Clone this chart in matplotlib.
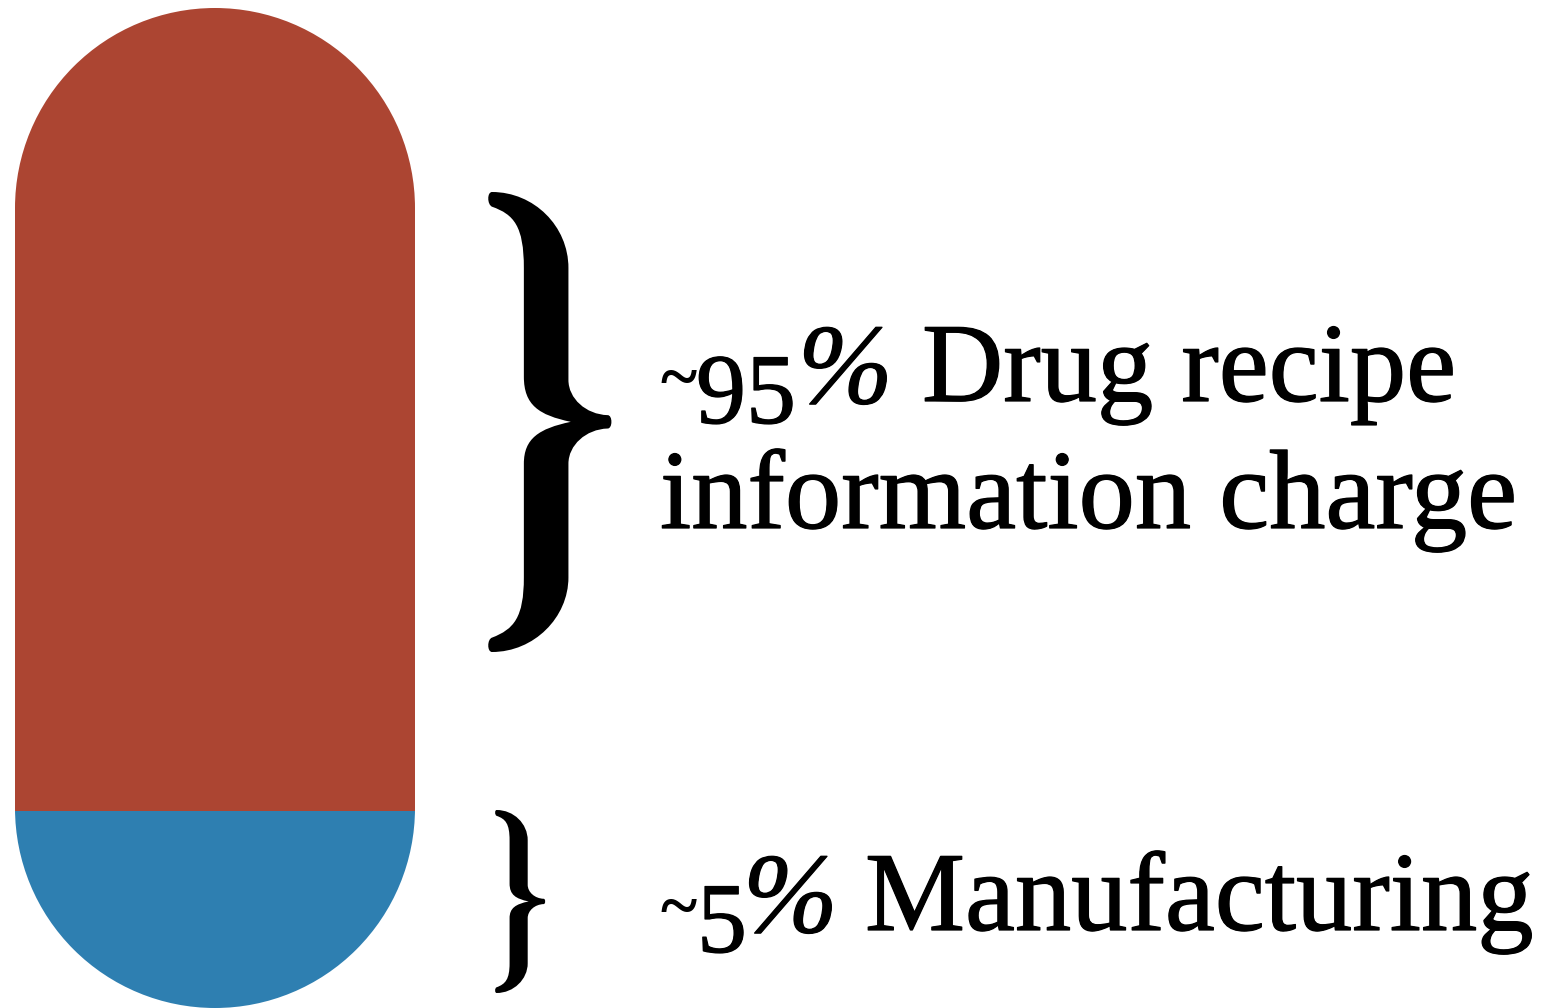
import matplotlib.patheffects as pe
import matplotlib.pyplot as plt
import numpy as np
from matplotlib.patches import PathPatch
from matplotlib.path import Path
from matplotlib.transforms import Affine2D

# capsule split (share of the capsule height, top down)
segment_names = ["Drug recipe information charge", "Manufacturing"]
segment_shares = [80.3, 19.7]
segment_colors = ["#ac4532", "#2e7fb1"]
label_percents = ["95", "5"]
label_words = ["Drug recipe", "information charge", "Manufacturing"]

# canvas in pixels of the reference
width, height = 1546, 1008
pill_left, pill_right = 15, 415
pill_top, pill_height = 8, 1000
px_per_share = pill_height / sum(segment_shares)

# the reference face is a bit heavier than Liberation Serif
heavier = [pe.withStroke(linewidth=0.9, foreground="black")]

# brace outline, in its own units
brace_verts = [
    (65, 38), (190, 38), (293, 140), (293, 265), (293, 600),
    (293, 655), (345, 703), (410, 705), (425, 705), (425, 745), (410, 745),
    (345, 747), (293, 795), (293, 850), (293, 1190),
    (293, 1310), (190, 1413), (65, 1413), (50, 1413), (50, 1375), (65, 1370),
    (130, 1345), (160, 1310), (160, 1190), (160, 850),
    (160, 775), (205, 745), (300, 725), (205, 705), (160, 675), (160, 590),
    (160, 265), (160, 140), (130, 105), (65, 82), (50, 75), (50, 38), (65, 38),
]
C, L = Path.CURVE4, Path.LINETO
brace_codes = [Path.MOVETO, C, C, C, L, C, C, C, C, C, C, C, C, C, L,
               C, C, C, C, C, C, C, C, C, L, C, C, C, C, C, C, L,
               C, C, C, C, C, C]


def draw_brace(ax, x0, x1, y0, y1):
    # scale the outline into the box x0..x1, y0..y1
    sx = (x1 - x0) / (420 - 53)
    sy = (y1 - y0) / (1413 - 38)
    tr = Affine2D().translate(-53, -38).scale(sx, sy).translate(x0, y0)
    path = Path(brace_verts, brace_codes).transformed(tr)
    ax.add_patch(PathPatch(path, facecolor="black", edgecolor="none"))


def capsule_path(left, right, top, bottom):
    # two half circles joined by straight sides (y axis points down)
    r = (right - left) / 2
    cx = left + r
    upper = Path.arc(0, 180).transformed(
        Affine2D().scale(r, -r).translate(cx, top + r))
    lower = Path.arc(180, 360).transformed(
        Affine2D().scale(r, -r).translate(cx, bottom - r))
    verts = np.vstack([upper.vertices, lower.vertices, upper.vertices[:1]])
    lower_codes = lower.codes.copy()
    lower_codes[0] = Path.LINETO
    codes = np.concatenate([upper.codes, lower_codes, [Path.CLOSEPOLY]])
    return Path(verts, codes)


def draw_label(ax, tilde_x, percent_val, digits_x, pct_x, baseline):
    # old-style figures: small tilde, digits dropped below the line, italic %
    ax.text(tilde_x, baseline - 2, "~", family="Liberation Serif",
            fontsize=50, weight="bold", va="baseline")
    ax.text(digits_x, baseline + 22, percent_val, family="Liberation Serif",
            fontsize=72, va="baseline", path_effects=heavier)
    ax.text(pct_x, baseline + 2, "%", family="Liberation Serif",
            style="italic", fontsize=82, va="baseline", path_effects=heavier)


fig = plt.figure(figsize=(width / 100, height / 100), dpi=100)
ax = fig.add_axes([0, 0, 1, 1])
ax.set_xlim(0, width)
ax.set_ylim(height, 0)
ax.axis("off")

# capsule outline used as a clip for the stacked bars
capsule = PathPatch(
    capsule_path(pill_left, pill_right, pill_top, pill_top + pill_height),
    facecolor="none", edgecolor="none", transform=ax.transData,
)
ax.add_patch(capsule)

bottom = pill_top
for name, share, color in zip(segment_names, segment_shares, segment_colors):
    bars = ax.bar((pill_left + pill_right) / 2, share * px_per_share,
                  bottom=bottom, width=pill_right - pill_left,
                  color=color, linewidth=0)
    bars[0].set_clip_path(capsule)
    bottom += share * px_per_share

draw_brace(ax, 488, 611, 192, 652)
draw_brace(ax, 495, 545, 810, 993)

draw_label(ax, 660, label_percents[0], 696, 798, 401)
draw_label(ax, 660, label_percents[1], 697, 743, 930)

font = dict(family="Liberation Serif", fontsize=81, color="black",
            va="baseline", path_effects=heavier)
ax.text(922, 401, label_words[0], **font)
ax.text(660, 528, label_words[1], **font)
ax.text(865, 930, label_words[2], **font)

fig.savefig("out.png", dpi=100)
